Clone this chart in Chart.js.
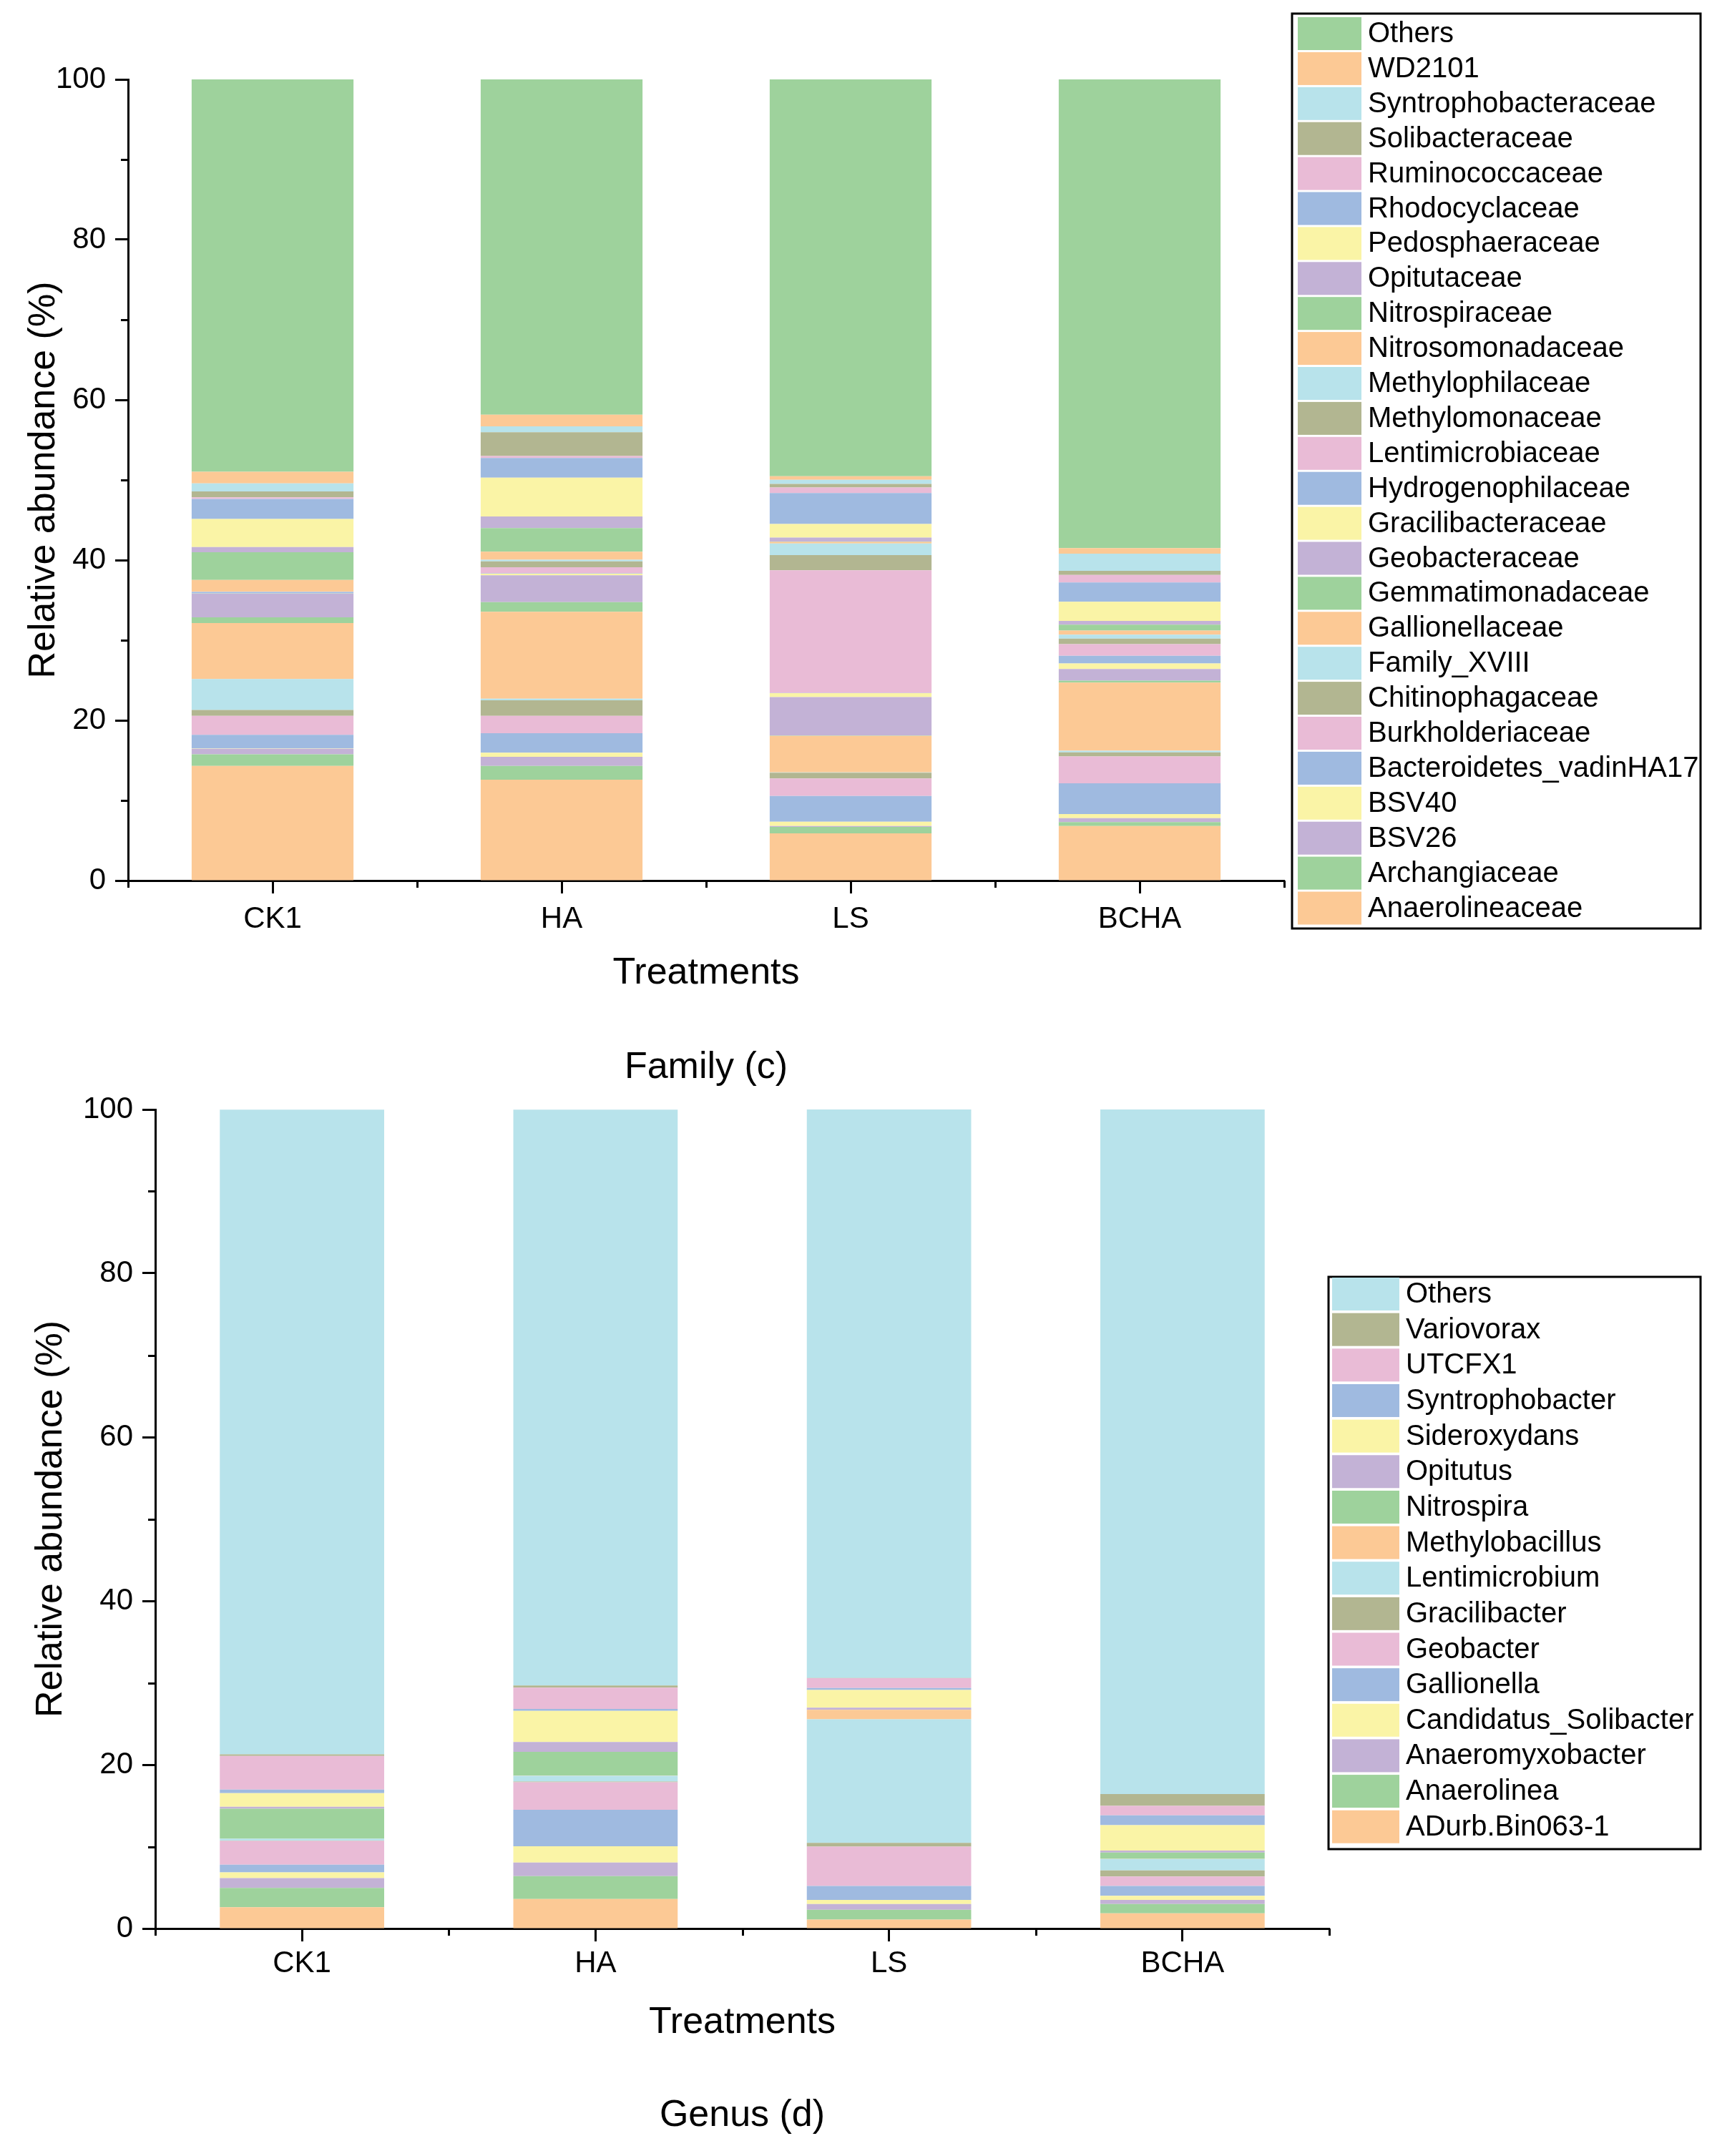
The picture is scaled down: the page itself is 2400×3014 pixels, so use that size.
<!DOCTYPE html>
<html><head><meta charset="utf-8">
<script src="https://cdn.jsdelivr.net/npm/chart.js@4.4.1/dist/chart.umd.min.js"></script>
<style>html,body{margin:0;padding:0;background:#fff;}canvas{position:absolute;left:0;display:block}</style>
</head><body>
<canvas id="c1" width="2400" height="1530" style="top:0px"></canvas>
<canvas id="c2" width="2400" height="1484" style="top:1530px"></canvas>
<script>
// ---------------- DATA ----------------
const treatments = ['CK1', 'HA', 'LS', 'BCHA'];
const yTickValues = [0, 20, 40, 60, 80, 100];

const familyNames = ['Anaerolineaceae','Archangiaceae','BSV26','BSV40','Bacteroidetes_vadinHA17','Burkholderiaceae',
  'Chitinophagaceae','Family_XVIII','Gallionellaceae','Gemmatimonadaceae','Geobacteraceae','Gracilibacteraceae',
  'Hydrogenophilaceae','Lentimicrobiaceae','Methylomonaceae','Methylophilaceae','Nitrosomonadaceae','Nitrospiraceae',
  'Opitutaceae','Pedosphaeraceae','Rhodocyclaceae','Ruminococcaceae','Solibacteraceae','Syntrophobacteraceae','WD2101','Others'];
const famCK1  = [14.3, 1.45, 0.7, 0.05, 1.7, 2.35, 0.75, 3.85, 7.0, 0.7, 2.95, 0.02, 0.2, 0.02, 0.02, 0.02, 1.45, 3.45, 0.65, 3.5, 2.5, 0.2, 0.75, 1.0, 1.45, 49.0];
const famHA   = [12.6, 1.7, 1.15, 0.5, 2.45, 2.15, 1.95, 0.2, 10.85, 1.2, 3.35, 0.2, 0.05, 0.75, 0.75, 0.2, 1.0, 2.95, 1.45, 4.85, 2.45, 0.25, 2.95, 0.75, 1.45, 41.85];
const famLS   = [5.9, 0.8, 0.1, 0.55, 3.2, 2.2, 0.7, 0.05, 4.55, 0.05, 4.8, 0.5, 0.02, 15.3, 1.9, 1.45, 0.2, 0.05, 0.5, 1.7, 3.85, 0.7, 0.45, 0.5, 0.45, 49.55];
const famBCHA = [6.8, 0.5, 0.5, 0.5, 3.85, 3.35, 0.5, 0.2, 8.5, 0.25, 1.45, 0.7, 0.95, 1.45, 0.7, 0.5, 0.5, 0.75, 0.45, 2.4, 2.4, 0.95, 0.5, 2.15, 0.7, 58.5];

const genusNames = ['ADurb.Bin063-1','Anaerolinea','Anaeromyxobacter','Candidatus_Solibacter','Gallionella','Geobacter',
  'Gracilibacter','Lentimicrobium','Methylobacillus','Nitrospira','Opitutus','Sideroxydans','Syntrophobacter','UTCFX1','Variovorax','Others'];
const genCK1  = [2.6, 2.35, 1.2, 0.7, 0.95, 2.9, 0.05, 0.2, 0.02, 3.65, 0.25, 1.65, 0.45, 4.1, 0.2, 78.7];
const genHA   = [3.6, 2.8, 1.65, 2.0, 4.45, 3.35, 0.1, 0.7, 0.02, 2.9, 1.2, 3.8, 0.25, 2.6, 0.25, 70.3];
const genLS   = [1.1, 1.2, 0.7, 0.5, 1.7, 4.8, 0.45, 15.1, 1.15, 0.02, 0.25, 2.15, 0.25, 1.2, 0.02, 69.4];
const genBCHA = [1.85, 1.15, 0.5, 0.5, 1.2, 1.15, 0.75, 1.4, 0.02, 0.75, 0.25, 3.1, 1.2, 1.15, 1.45, 83.6];

// ---------------- STYLE ----------------
const palette = ['#FCC995','#9ED29C','#C3B2D6','#FAF4A6','#9FBAE0','#E9BBD6','#B2B691','#B8E3EB'];
const FONT = "'Liberation Sans', Arial, sans-serif";

function buildDatasets(names, cols) {
  return names.map((n, i) => ({
    label: n,
    data: cols.map(c => c[i]),
    backgroundColor: palette[i % palette.length],
    borderWidth: 0,
    barPercentage: 0.56,
    categoryPercentage: 1.0
  }));
}

const minorTicks = {
  id: 'minorTicks',
  afterDraw(chart, args, o) {
    const ctx = chart.ctx, xs = chart.scales.x, ys = chart.scales.y;
    ctx.save();
    ctx.strokeStyle = '#000';
    ctx.lineWidth = o.width;
    ctx.beginPath();
    for (let k = 0; k < yTickValues.length - 1; k++) {
      const v = (yTickValues[k] + yTickValues[k + 1]) / 2;
      const py = Math.round(ys.getPixelForValue(v)) + 0.5;
      ctx.moveTo(ys.right - o.len, py);
      ctx.lineTo(ys.right, py);
    }
    const p0 = xs.getPixelForValue(0), step = xs.getPixelForValue(1) - p0;
    for (let i = 0; i <= treatments.length; i++) {
      const px = Math.round(p0 - step / 2 + i * step) + 0.5;
      ctx.moveTo(px, xs.top);
      ctx.lineTo(px, xs.top + o.len);
    }
    ctx.stroke();
    ctx.restore();
  }
};

const boxLegend = {
  id: 'boxLegend',
  afterDraw(chart, args, o) {
    const ctx = chart.ctx;
    ctx.save();
    ctx.lineWidth = 3;
    ctx.strokeStyle = '#000';
    ctx.strokeRect(o.x, o.y, o.w, o.h);
    ctx.font = '40px ' + FONT;
    ctx.textBaseline = 'middle';
    ctx.textAlign = 'left';
    const ds = chart.data.datasets.slice().reverse();
    ds.forEach((d, i) => {
      const cy = o.first + i * o.pitch;
      ctx.fillStyle = d.backgroundColor;
      ctx.fillRect(o.swX, cy - o.swH / 2, o.swW, o.swH);
      ctx.fillStyle = '#000';
      ctx.fillText(d.label, o.textX, cy + 1);
    });
    ctx.restore();
  }
};

function makeChart(id, names, cols, cfg) {
  return new Chart(document.getElementById(id), {
    type: 'bar',
    data: { labels: treatments, datasets: buildDatasets(names, cols) },
    plugins: [minorTicks, boxLegend],
    options: {
      responsive: false,
      animation: false,
      devicePixelRatio: 1,
      layout: { padding: cfg.padding },
      plugins: {
        legend: { display: false },
        tooltip: { enabled: false },
        title: {
          display: true, position: 'bottom', fullSize: false, text: cfg.title, color: '#000',
          font: { family: FONT, size: 52, weight: 'normal' },
          padding: { top: 10, bottom: cfg.titlePadBottom }
        },
        minorTicks: { len: 10, width: 3 },
        boxLegend: cfg.legend
      },
      scales: {
        x: {
          stacked: true,
          offset: true,
          grid: { display: true, drawOnChartArea: false, drawTicks: true, tickLength: 18, tickWidth: 3, tickColor: '#000', offset: false },
          border: { display: true, color: '#000', width: 3 },
          ticks: { color: '#000', font: { family: FONT, size: 42 }, padding: cfg.xTickPad, maxRotation: 0 },
          title: { display: true, text: 'Treatments', color: '#000', font: { family: FONT, size: 52 }, padding: { top: 0, bottom: cfg.xTitlePad } },
          afterFit(s) { s.height = cfg.xHeight; }
        },
        y: {
          stacked: true,
          min: 0, max: 100,
          grid: { display: true, drawOnChartArea: false, drawTicks: true, tickLength: 18, tickWidth: 3, tickColor: '#000' },
          border: { display: true, color: '#000', width: 3 },
          ticks: { color: '#000', font: { family: FONT, size: 42, lineHeight: 0.1 }, padding: 13 },
          afterBuildTicks(s) { s.ticks = yTickValues.map(v => ({ value: v })); },
          title: { display: true, text: 'Relative abundance (%)', color: '#000', font: { family: FONT, size: 52 }, padding: { top: cfg.yTitlePad, bottom: 0 } },
          afterFit(s) { s.width = cfg.yWidth; }
        }
      }
    }
  });
}

makeChart('c1', familyNames, [famCK1, famHA, famLS, famBCHA], {
  padding: { left: 0, top: 111, right: 605, bottom: 0 },
  title: 'Family (c)', titlePadBottom: 5.8,
  xHeight: 220.8, xTitlePad: 59.6, xTickPad: 11,
  yWidth: 179, yTitlePad: 30,
  legend: { x: 1806, y: 19, w: 571, h: 1279, first: 47, pitch: 48.9, swX: 1814, swW: 89, swH: 46, textX: 1912 }
});

makeChart('c2', genusNames, [genCK1, genHA, genLS, genBCHA], {
  padding: { left: 0, top: 21, right: 542, bottom: 0 },
  title: 'Genus (d)', titlePadBottom: 24.8,
  xHeight: 220.8, xTitlePad: 57.6, xTickPad: 6,
  yWidth: 217, yTitlePad: 40,
  legend: { x: 1857, y: 255, w: 520, h: 800, first: 279, pitch: 49.65, swX: 1862, swW: 94, swH: 46, textX: 1965 }
});
</script>
</body></html>
